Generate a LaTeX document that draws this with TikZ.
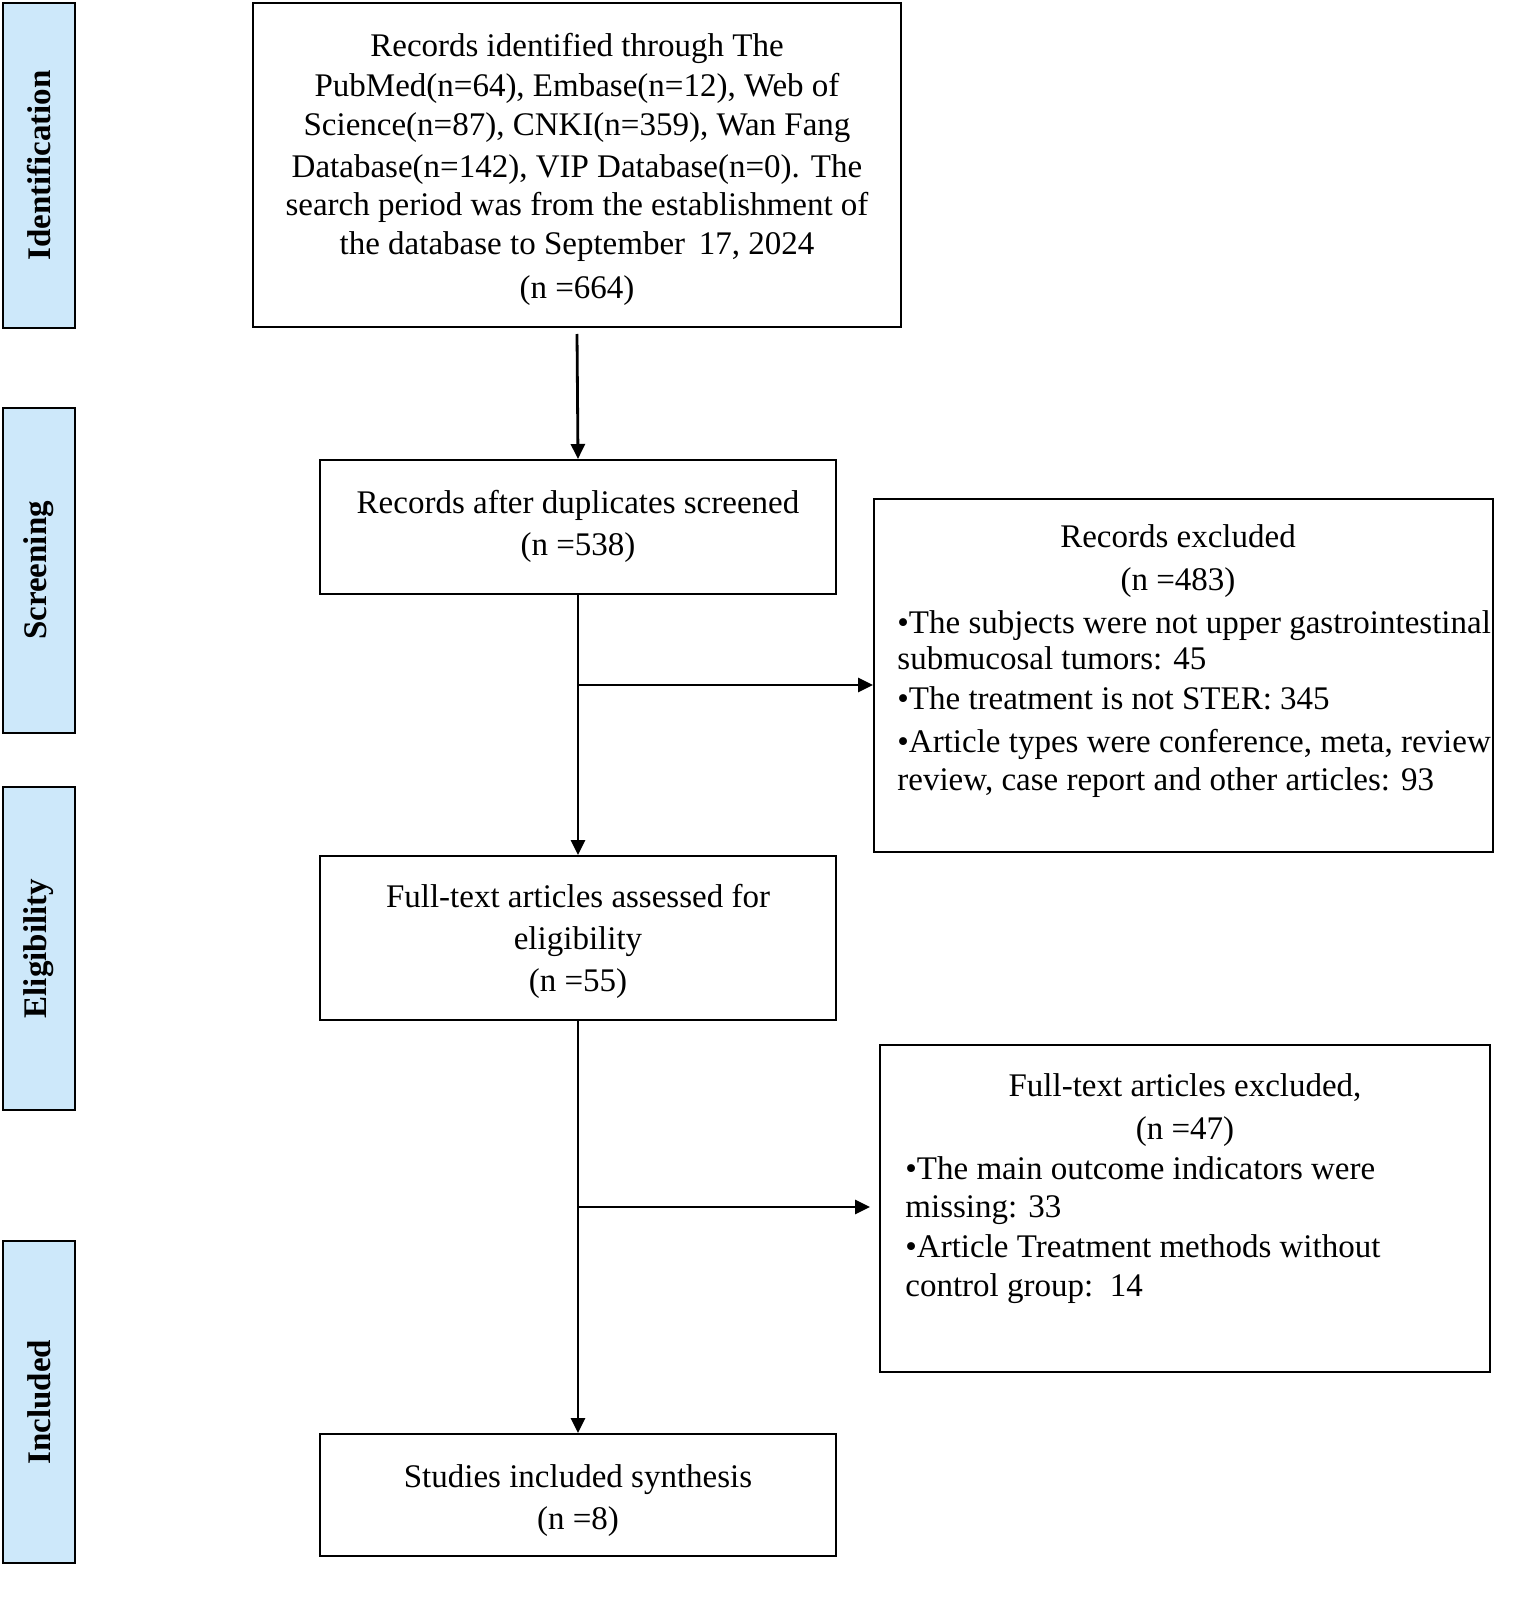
\documentclass[tikz,border=0pt]{standalone}
\usepackage{fontspec}
\setmainfont{Liberation Serif}
\usetikzlibrary{arrows.meta,fit}
\definecolor{sidefill}{RGB}{205,232,250}
\begin{document}
\begin{tikzpicture}[x=0.5pt,y=-0.5pt,
  box/.style={draw=black,line width=1pt,inner sep=0pt},
  side/.style={draw=black,line width=1.3pt,fill=sidefill,inner sep=0pt},
  sidetext/.style={rotate=90,font=\fontsize{16.5}{20}\selectfont\bfseries},
  txt/.style={anchor=base,inner sep=0pt,font=\fontsize{16.5}{20}\selectfont},
  ltxt/.style={txt,anchor=base west},
  arr/.style={line width=1.4pt,-{Triangle[length=7.5pt,width=7pt]}}]
\useasboundingbox (0,0) rectangle (1535,1609);
% side labels
\node[side,fit={(3,3)(75,328)}] (idb) {};
\node[side,fit={(3,408)(75,733)}] (scb) {};
\node[side,fit={(3,787)(75,1110)}] (elb) {};
\node[side,fit={(3,1241)(75,1563)}] (inb) {};
\node[sidetext] (idt) at (idb.center) {Identification};
\node[sidetext] (sct) at (scb.center) {Screening};
\node[sidetext] (elt) at (elb.center) {Eligibility};
\node[sidetext] (int) at (inb.center) {Included};
% main boxes
\node[box,fit={(253,3)(901,327)}] (top) {};
\node[box,fit={(320,460)(836,594)}] (dup) {};
\node[box,fit={(874,499)(1493,852)}] (exa) {};
\node[box,fit={(320,856)(836,1020)}] (full) {};
\node[box,fit={(880,1045)(1490,1372)}] (exb) {};
\node[box,fit={(320,1434)(836,1556)}] (inc) {};
% top box text
\node[txt] (t1) at (577,57) {Records identified through The};
\node[txt] (t2) at (577,97) {PubMed(n=64), Embase(n=12), Web of};
\node[txt] (t3) at (577,136) {Science(n=87), CNKI(n=359), Wan Fang};
\node[txt] (t4) at (577,178) {Database(n=142), VIP Database(n=0). The};
\node[txt] (t5) at (577,216) {search period was from the establishment of};
\node[txt] (t6) at (577,255) {the database to September\ \,17, 2024};
\node[txt] (t7) at (577,299) {(n =664)};
% duplicates
\node[txt] (d1) at (578,513) {Records after duplicates screened};
\node[txt] (d2) at (578,555) {(n =538)};
% full text
\node[txt] (f1) at (578,907) {Full-text articles assessed for};
\node[txt] (f2) at (578,949) {eligibility};
\node[txt] (f3) at (578,991) {(n =55)};
% included
\node[txt] (s1) at (578,1487) {Studies included synthesis};
\node[txt] (s2) at (578,1529) {(n =8)};
% records excluded
\node[txt] (r1) at (1178,547) {Records excluded};
\node[txt] (r2) at (1178,590) {(n =483)};
\node[ltxt] (r3) at (897,633) {•The subjects were not upper gastrointestinal};
\node[ltxt] (r4) at (897,669) {submucosal tumors: 45};
\node[ltxt] (r5) at (897,709) {•The treatment is not STER: 345};
\node[ltxt] (r6) at (897,752) {•Article types were conference, meta, review};
\node[ltxt] (r7) at (897,790) {review, case report and other articles: 93};
% full-text excluded
\node[txt] (e1) at (1185,1096) {Full-text articles excluded,};
\node[txt] (e2) at (1185,1139) {(n =47)};
\node[ltxt] (e3) at (905,1179) {•The main outcome indicators were};
\node[ltxt] (e4) at (905,1217) {missing: 33};
\node[ltxt] (e5) at (905,1257) {•Article Treatment methods without};
\node[ltxt] (e6) at (905,1296) {control group:\ \ 14};
% connectors
\draw[arr] ([yshift=-3pt]top.south) -- (dup.north);
\draw[arr] (dup.south) -- (full.north);
\draw[arr] (full.south) -- (inc.north);
\coordinate (b1) at (dup.south |- 0,685);
\draw[arr] (b1) -- (b1 -| exa.west);
\coordinate (b2) at (full.south |- 0,1207);
\coordinate (b2e) at (870,1207);
\draw[arr] (b2) -- (b2e);
\end{tikzpicture}
\end{document}
